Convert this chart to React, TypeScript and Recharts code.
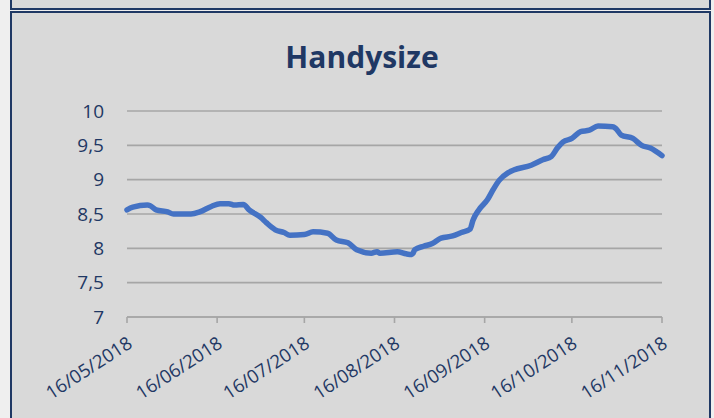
import React from 'react';
import { LineChart, Line, XAxis, YAxis, CartesianGrid } from 'recharts';

const dates = [
  '2018-05-16', '2018-05-18', '2018-05-23', '2018-05-24', '2018-05-26', '2018-05-30',
  '2018-06-01', '2018-06-07', '2018-06-10', '2018-06-14', '2018-06-17', '2018-06-20',
  '2018-06-22', '2018-06-25', '2018-06-27', '2018-07-01', '2018-07-03', '2018-07-06',
  '2018-07-09', '2018-07-11', '2018-07-16', '2018-07-19', '2018-07-24', '2018-07-27',
  '2018-07-31', '2018-08-03', '2018-08-08', '2018-08-10', '2018-08-11', '2018-08-17',
  '2018-08-20', '2018-08-22', '2018-08-23', '2018-08-26', '2018-08-29', '2018-09-01',
  '2018-09-05', '2018-09-08', '2018-09-11', '2018-09-12', '2018-09-14', '2018-09-17',
  '2018-09-19', '2018-09-21', '2018-09-24', '2018-09-26', '2018-10-02', '2018-10-06',
  '2018-10-09', '2018-10-11', '2018-10-13', '2018-10-16', '2018-10-19', '2018-10-22',
  '2018-10-25', '2018-10-30', '2018-10-31', '2018-11-02', '2018-11-06', '2018-11-09',
  '2018-11-12', '2018-11-16',
];

const values = [
  8.56, 8.6, 8.63, 8.62, 8.56, 8.53,
  8.5, 8.5, 8.53, 8.61, 8.65, 8.65,
  8.63, 8.64, 8.56, 8.45, 8.37, 8.27,
  8.23, 8.19, 8.2, 8.24, 8.22, 8.12,
  8.08, 7.98, 7.93, 7.95, 7.93, 7.95,
  7.92, 7.91, 7.98, 8.03, 8.07, 8.15,
  8.18, 8.23, 8.28, 8.41, 8.56, 8.71,
  8.86, 8.99, 9.1, 9.14, 9.21, 9.29,
  9.34, 9.46, 9.55, 9.6, 9.7, 9.72,
  9.78, 9.77, 9.75, 9.65, 9.6, 9.5,
  9.46, 9.35,
];

const xTickLabels = ['16/05/2018', '16/06/2018', '16/07/2018', '16/08/2018', '16/09/2018', '16/10/2018', '16/11/2018'];
const yTicks = [7, 7.5, 8, 8.5, 9, 9.5, 10];

const toTime = (s: string) => new Date(s + 'T00:00:00Z').getTime();
const labelToTime = (l: string) => {
  const [d, m, y] = l.split('/');
  return toTime(`${y}-${m}-${d}`);
};

const data = dates.map((d, i) => ({ t: toTime(d), v: values[i] }));
const xTicks = xTickLabels.map(labelToTime);

const NAVY = '#1f3864';
const FONT = '"Open Sans", sans-serif';

const fmtDate = (t: number) => {
  const d = new Date(t);
  const dd = String(d.getUTCDate()).padStart(2, '0');
  const mm = String(d.getUTCMonth() + 1).padStart(2, '0');
  return `${dd}/${mm}/${d.getUTCFullYear()}`;
};

// rotated date labels, end of text sits just under the tick
const XTick = (props: any) => {
  const { x, payload } = props;
  return (
    <text
      transform={`translate(${x + 3},${341}) rotate(-33)`}
      textAnchor="end"
      dy="0.35em"
      fill={NAVY}
      fontSize={18.5}
      fontFamily={FONT}
    >
      {fmtDate(payload.value)}
    </text>
  );
};

export default function App() {
  return (
    <div style={{ position: 'fixed', left: 0, top: 0, width: 714, height: 418, background: '#efefef', overflow: 'hidden' }}>
      <div style={{ position: 'absolute', left: 10, top: -10, width: 697, height: 16, background: '#d9d9d9', border: `2px solid ${NAVY}` }} />
      <div style={{ position: 'absolute', left: 10, top: 11, width: 697, height: 420, background: '#d9d9d9', border: `2px solid ${NAVY}` }} />
      <div style={{ position: 'absolute', left: 0, top: 0 }}>
        <LineChart width={714} height={418} data={data} margin={{ top: 111, right: 52, bottom: 0, left: 47 }}>
          <text x={362} y={68} textAnchor="middle" fill={NAVY} fontSize={30} fontWeight={700} fontFamily={FONT}>
            Handysize
          </text>
          <CartesianGrid vertical={false} stroke="#a6a6a6" strokeWidth={1.6} />
          <XAxis
            dataKey="t"
            type="number"
            domain={[xTicks[0], xTicks[xTicks.length - 1]]}
            ticks={xTicks}
            tick={<XTick />}
            height={101}
            axisLine={{ stroke: '#a6a6a6', strokeWidth: 1.6 }}
            tickLine={{ stroke: '#a6a6a6', strokeWidth: 1.6 }}
            tickSize={6}
            interval={0}
          />
          <YAxis
            type="number"
            domain={[7, 10]}
            ticks={yTicks}
            width={80}
            axisLine={false}
            tickLine={false}
            tickMargin={17}
            tick={{ fill: NAVY, fontSize: 19, fontFamily: FONT }}
            tickFormatter={(v: number) => String(v).replace('.', ',')}
            interval={0}
          />
          <Line
            type="monotone"
            dataKey="v"
            stroke="#4472c4"
            strokeWidth={5.5}
            dot={false}
            isAnimationActive={false}
            strokeLinecap="round"
            strokeLinejoin="round"
          />
        </LineChart>
      </div>
    </div>
  );
}
